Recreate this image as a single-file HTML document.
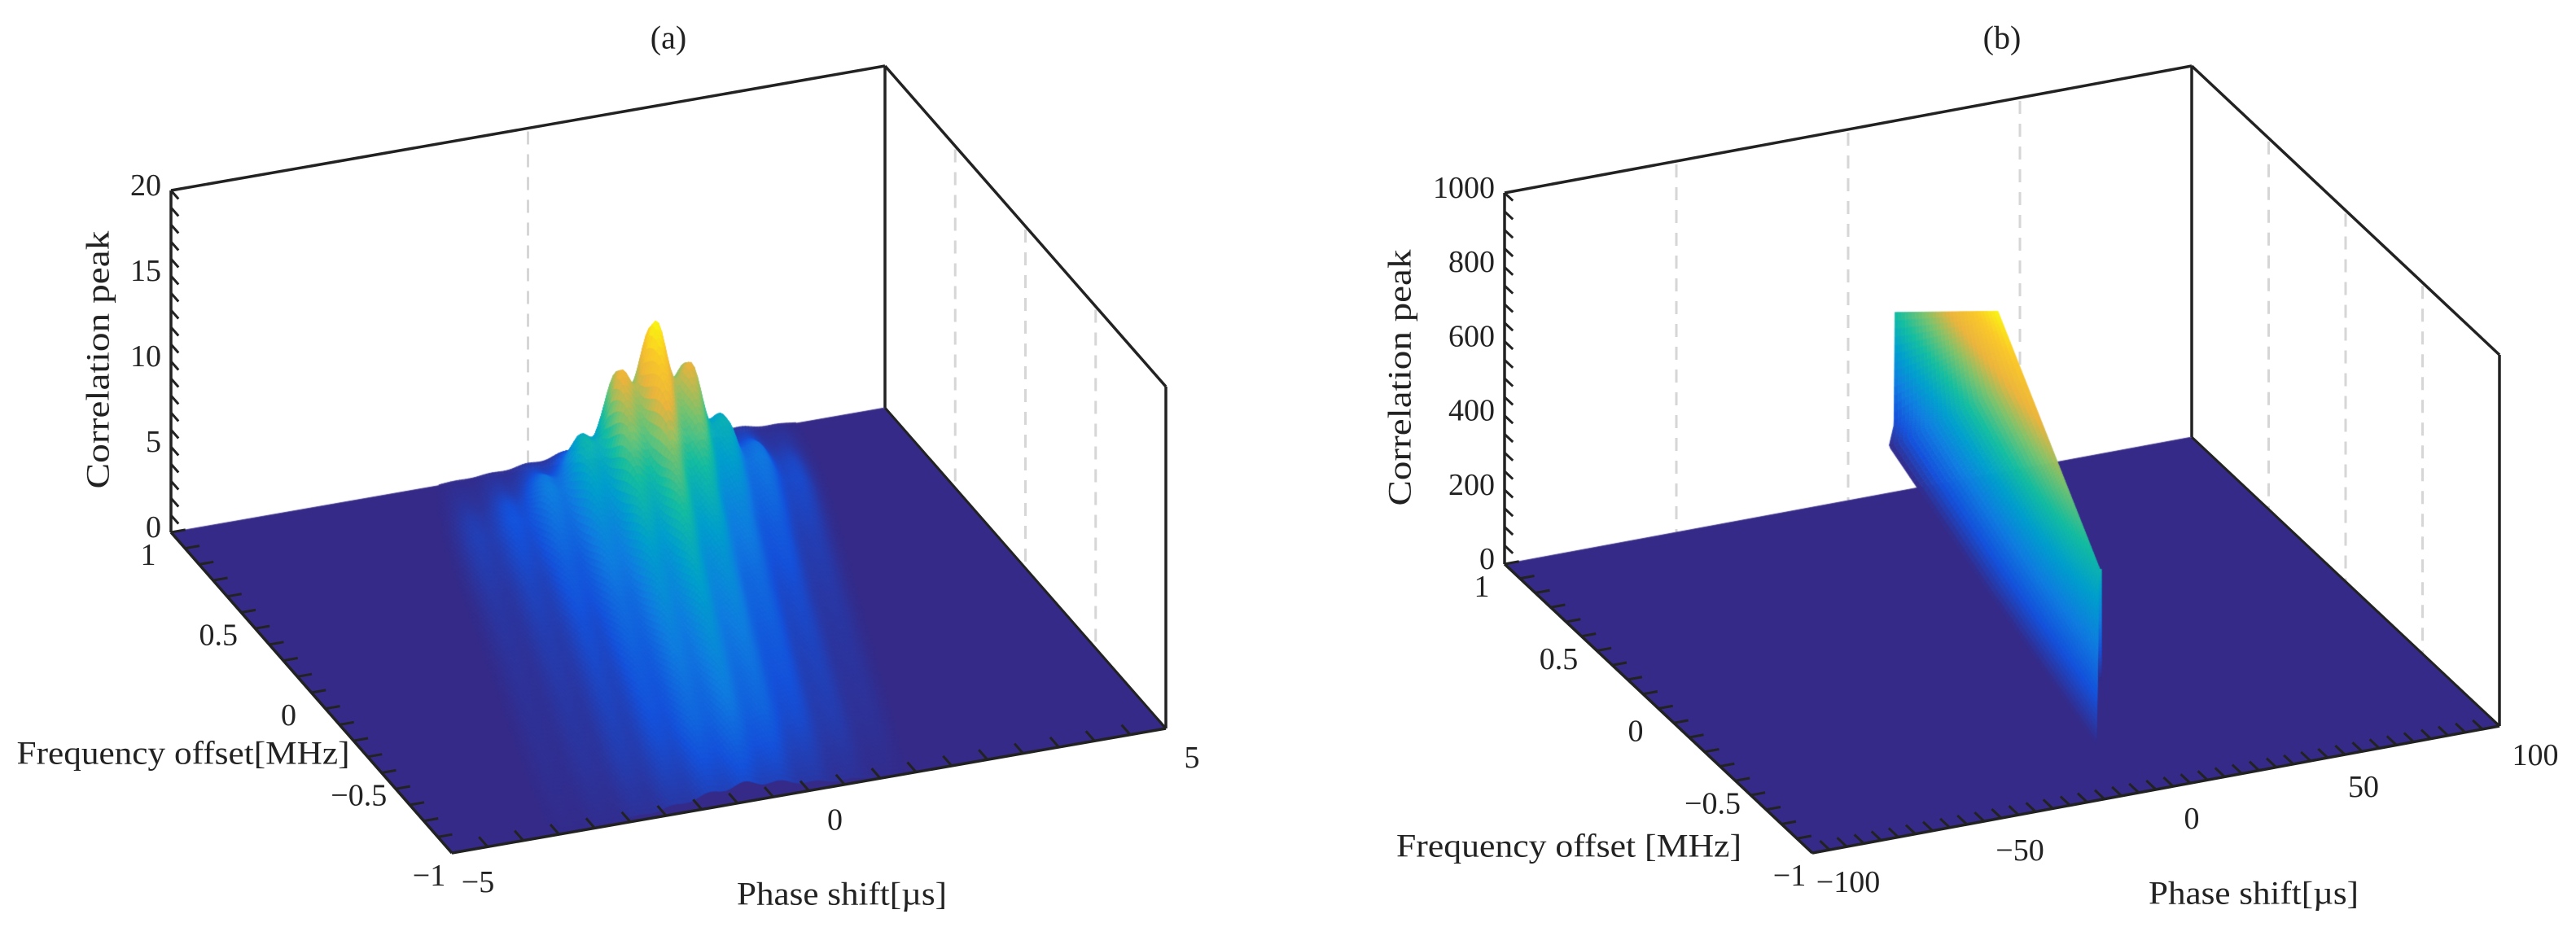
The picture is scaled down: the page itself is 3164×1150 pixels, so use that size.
<!DOCTYPE html>
<html><head><meta charset="utf-8"><style>
html,body{margin:0;padding:0;background:#fff;}
#wrap{position:relative;width:3164px;height:1150px;overflow:hidden;background:#fff;}
canvas,svg{position:absolute;left:0;top:0;}
text{font-family:"Liberation Serif",serif;fill:#222;}
</style></head><body>
<div id="wrap">
<svg id="bg" width="3164" height="1150"></svg>
<canvas id="cv" width="3164" height="1150"></canvas>
<svg id="sv" width="3164" height="1150"></svg>
</div>
<script>
// ---------- Panel (a) data ----------
const envF = [-1, -0.7, -0.3, 0, 0.3, 0.45, 0.6, 0.7, 0.85, 1];
const envZ = [1.2, 2.8, 4.0, 5.2, 7.5, 9.8, 11.6, 10.2, 5.0, 1.5];
const centerF = [-1, 1];
const centerP = [-0.9, 1.48];
const lobeOffset = [-2.5, -2, -1.5, -1, -0.5, 0, 0.5, 1, 1.5, 2];
const lobeHeight = [0.07, 0.13, 0.24, 0.36, 0.52, 0.65, 0.5, 0.34, 0.22, 0.1];
const zTicksA = [0, 5, 10, 15, 20];
const fTicksA = [1, 0.5, 0, -0.5, -1];
const fTickLabelsA = ["1", "0.5", "0", "\u22120.5", "\u22121"];
const pTicksA = [-5, 0, 5];
const pTickLabelsA = ["\u22125", "0", "5"];
// ---------- Panel (b) data ----------
const startT = [0, 0.15, 0.25, 0.6, 1];
const startP = [28.4, 25, 24, 10, -3.0];
const startF = [1.33, 1.26, 1.27, 0.3, -0.68];
const startZ = [330, 60, 0, 0, 0];
const crestT = [0, 1];
const crestP = [23, 14.6];
const crestF = [0.54, -0.31];
const crestZ = [650, 300];
const zTicksB = [0, 200, 400, 600, 800, 1000];
const fTicksB = [1, 0.5, 0, -0.5, -1];
const fTickLabelsB = ["1", "0.5", "0", "\u22120.5", "\u22121"];
const pTicksB = [-100, -50, 0, 50, 100];
const pTickLabelsB = ["\u2212100", "\u221250", "0", "50", "100"];

const PA = {L:[210,654], vP:[877,-153], vF:[345,394], p0:-5, p1:5, zs:21, zmax:20, clim:11.8};
const PB = {L:[1848,693], vP:[844,-156], vF:[378,355], p0:-100, p1:100, zs:0.456, zmax:1000, clim:660};

function proj(P, p, f, z){
  const a=(p-P.p0)/(P.p1-P.p0), b=(1-f)/2;
  return [P.L[0]+a*P.vP[0]+b*P.vF[0], P.L[1]+a*P.vP[1]+b*P.vF[1]-z*P.zs];
}
function interp(xs, ys, x){
  if(xs[0]>xs[xs.length-1]){xs=xs.slice().reverse();ys=ys.slice().reverse();}
  if(x<=xs[0])return ys[0]; if(x>=xs[xs.length-1])return ys[ys.length-1];
  for(let i=0;i<xs.length-1;i++){ if(x<=xs[i+1]){const t=(x-xs[i])/(xs[i+1]-xs[i]);return ys[i]+t*(ys[i+1]-ys[i]);} }
  return ys[ys.length-1];
}
const parula=[[0,[53,42,135]],[0.125,[20,82,220]],[0.25,[15,125,225]],[0.375,[0,160,205]],[0.5,[20,190,160]],[0.625,[120,195,110]],[0.75,[235,180,60]],[0.875,[250,200,40]],[1,[249,251,14]]];
function cmap(v){
  v=Math.max(0,Math.min(1,v));
  for(let i=0;i<parula.length-1;i++){ if(v<=parula[i+1][0]){const t=(v-parula[i][0])/(parula[i+1][0]-parula[i][0]);const a=parula[i][1],b=parula[i+1][1];return `rgb(${Math.round(a[0]+t*(b[0]-a[0]))},${Math.round(a[1]+t*(b[1]-a[1]))},${Math.round(a[2]+t*(b[2]-a[2]))})`;} }
  return "rgb(249,251,14)";
}
const cv=document.getElementById('cv'), ctx=cv.getContext('2d');
function quad(pts, col){
  ctx.beginPath(); ctx.moveTo(pts[0][0],pts[0][1]);
  for(let i=1;i<pts.length;i++)ctx.lineTo(pts[i][0],pts[i][1]);
  ctx.closePath(); ctx.fillStyle=col; ctx.strokeStyle=col; ctx.lineWidth=0.8; ctx.fill(); ctx.stroke();
}
function floor(P){
  quad([proj(P,P.p0,1,0),proj(P,P.p1,1,0),proj(P,P.p1,-1,0),proj(P,P.p0,-1,0)],"rgb(53,42,135)");
}
// ---- surface a ----
function zA(p,f){
  const env=interp(envF,envZ,f), c=interp(centerF,centerP,f), d=p-c;
  let s=0.35*Math.exp(-(d/0.9)*(d/0.9));
  for(let i=0;i<lobeOffset.length;i++){const q=(d-lobeOffset[i])/0.24;s+=lobeHeight[i]*Math.exp(-q*q);}
  return env*s;
}
floor(PA);
(function(){
  const NP=240, NF=90, cells=[];
  for(let i=0;i<NP;i++)for(let j=0;j<NF;j++){
    const pa=-5+10*i/NP, pb=-5+10*(i+1)/NP, fa=1-2*j/NF, fb=1-2*(j+1)/NF;
    const z1=zA(pa,fa),z2=zA(pb,fa),z3=zA(pb,fb),z4=zA(pa,fb);
    const zm=(z1+z2+z3+z4)/4;
    if(zm<0.05)continue;
    const fy=proj(PA,(pa+pb)/2,(fa+fb)/2,0)[1];
    cells.push([fy,[proj(PA,pa,fa,z1),proj(PA,pb,fa,z2),proj(PA,pb,fb,z3),proj(PA,pa,fb,z4)],cmap(zm/PA.clim)]);
  }
  cells.sort((a,b)=>a[0]-b[0]);
  for(const c of cells)quad(c[1],c[2]);
})();
// ---- surface b ----
floor(PB);
(function(){
  const NT=90, NS=30;
  function S(t){return [interp(startT,startP,t),interp(startT,startF,t),interp(startT,startZ,t)];}
  function C(t){return [interp(crestT,crestP,t),interp(crestT,crestF,t),interp(crestT,crestZ,t)];}
  function pt(t,s){const a=S(t),b=C(t);return [a[0]+s*(b[0]-a[0]),a[1]+s*(b[1]-a[1]),a[2]+s*(b[2]-a[2])];}
  for(let i=0;i<NT;i++)for(let j=0;j<NS;j++){
    const t0=i/NT,t1=(i+1)/NT,s0=j/NS,s1=(j+1)/NS;
    const q=[pt(t0,s0),pt(t0,s1),pt(t1,s1),pt(t1,s0)];
    const zm=(q[0][2]+q[1][2]+q[2][2]+q[3][2])/4;
    quad(q.map(v=>proj(PB,v[0],v[1],v[2])),cmap(zm/PB.clim));
  }
  const c=C(1), N=30;
  for(let k=0;k<N;k++){
    const za=c[2]*k/N, zb=c[2]*(k+1)/N;
    const A=proj(PB,c[0],c[1],za),B=proj(PB,c[0],c[1],zb);
    quad([[A[0]-1,A[1]],[A[0]+2,A[1]],[B[0]+2,B[1]],[B[0]-1,B[1]]],cmap((za+zb)/2/PB.clim));
  }
})();
// ---------- SVG axes ----------
const NS_="http://www.w3.org/2000/svg";
let target=document.getElementById('sv');
function line(x1,y1,x2,y2,stroke,w,dash,name){
  const e=document.createElementNS(NS_,'line');
  e.setAttribute('x1',x1);e.setAttribute('y1',y1);e.setAttribute('x2',x2);e.setAttribute('y2',y2);
  e.setAttribute('stroke',stroke);e.setAttribute('stroke-width',w);if(dash)e.setAttribute('stroke-dasharray',dash);
  
  
  target.appendChild(e);return e;
}
function text(x,y,s,size,anchor,name,rot,len){
  const e=document.createElementNS(NS_,'text');
  e.setAttribute('x',x);e.setAttribute('y',y);e.setAttribute('font-size',size);
  e.setAttribute('text-anchor',anchor);e.setAttribute('dominant-baseline','central');
  if(rot)e.setAttribute('transform',`rotate(${rot} ${x} ${y})`);
  if(len){e.setAttribute('textLength',len);e.setAttribute('lengthAdjust','spacingAndGlyphs');}
  e.textContent=s;
  
  
  target.appendChild(e);return e;
}
function axes(P, cfg){
  const Lb=proj(P,P.p0,1,0), Lt=proj(P,P.p0,1,P.zmax), Bb=proj(P,P.p1,1,0), Bt=proj(P,P.p1,1,P.zmax);
  const Rb=proj(P,P.p1,-1,0), Rt=proj(P,P.p1,-1,P.zmax), Fb=proj(P,P.p0,-1,0);
  target=document.getElementById('bg');
  for(const p of cfg.backGrid){const a=proj(P,p,1,P.zmax),b=proj(P,p,1,0);line(a[0],a[1]+4,b[0],b[1],'#d6d6d6',3,'16 12','back-gridline');}
  for(const f of [0.5,0,-0.5]){const a=proj(P,P.p1,f,P.zmax),b=proj(P,P.p1,f,0);line(a[0],a[1]+4,b[0],b[1],'#d6d6d6',3,'16 12','side-gridline');}
  line(Bb[0],Bb[1],Bt[0],Bt[1],'#222',3.5,null,'back-vertical-edge');
  target=document.getElementById('sv');
  line(Lt[0],Lt[1],Bt[0],Bt[1],'#222',3.5,null,'box-top-back-edge');
  line(Bt[0],Bt[1],Rt[0],Rt[1],'#222',3.5,null,'box-top-side-edge');
  line(Lb[0],Lb[1],Lt[0],Lt[1],'#222',3.5,null,'z-axis');
  line(Rb[0],Rb[1],Rt[0],Rt[1],'#222',3.5,null,'right-vertical-edge');
  line(Bb[0],Bb[1],Rb[0],Rb[1],'#222',3,null,'floor-right-edge');
  line(Lb[0],Lb[1],Fb[0],Fb[1],'#222',3.5,null,'frequency-axis');
  line(Fb[0],Fb[1],Rb[0],Rb[1],'#222',3.5,null,'phase-axis');
  const fl=Math.hypot(P.vF[0],P.vF[1]), pl=Math.hypot(P.vP[0],P.vP[1]);
  for(let z=0;z<=P.zmax+1e-9;z+=cfg.zMinor){const a=proj(P,P.p0,1,z);line(a[0],a[1],a[0]+P.vF[0]/fl*14,a[1]+P.vF[1]/fl*14,'#222',3,null,'z-tick');}
  for(let k=0;k<=20;k++){const f=1-k*0.1;const a=proj(P,P.p0,f,0);line(a[0],a[1],a[0]+P.vP[0]/pl*18,a[1]+P.vP[1]/pl*18,'#222',3,null,'frequency-tick');}
  for(let p=P.p0;p<=P.p1+1e-9;p+=cfg.pMinor){const a=proj(P,p,-1,0);line(a[0],a[1],a[0]-P.vF[0]/fl*16,a[1]-P.vF[1]/fl*16,'#222',3,null,'phase-tick');}
  cfg.zTicks.forEach(z=>{const a=proj(P,P.p0,1,z);text(a[0]-12,a[1]-6,String(z),38,'end','z-tick-label');});
  cfg.fTicks.forEach((f,i)=>{const a=proj(P,P.p0,f,0);text(a[0]-cfg.fOff,a[1]+28,cfg.fLabels[i],38,'middle','frequency-tick-label');});
  cfg.pTicks.forEach((p,i)=>{const a=proj(P,p,-1,0);text(a[0]+cfg.pOffX,a[1]+36,cfg.pLabels[i],38,'middle','phase-tick-label');});
}
axes(PA,{backGrid:[0],zMinor:1,pMinor:0.5,zTicks:zTicksA,fTicks:fTicksA,fLabels:fTickLabelsA,fOff:28,pTicks:pTicksA,pLabels:pTickLabelsA,pOffX:32});
axes(PB,{backGrid:[-50,0,50],zMinor:50,pMinor:5,zTicks:zTicksB,fTicks:fTicksB,fLabels:fTickLabelsB,fOff:28,pTicks:pTicksB,pLabels:pTickLabelsB,pOffX:44});
text(821,46,"(a)",40,'middle','panel-a-title');
text(2459,46,"(b)",40,'middle','panel-b-title');
text(120,442,"Correlation peak",40,'middle','z-axis-title-a',-90,317);
text(1719,464,"Correlation peak",40,'middle','z-axis-title-b',-90,315);
text(225,925,"Frequency offset[MHz]",40,'middle','frequency-axis-title-a',0,409);
text(1927,1039,"Frequency offset [MHz]",40,'middle','frequency-axis-title-b',0,424);
text(1034,1098,"Phase shift[\u00b5s]",40,'middle','phase-axis-title-a',0,258);
text(2768,1097,"Phase shift[\u00b5s]",40,'middle','phase-axis-title-b',0,258);
</script>
</body></html>
